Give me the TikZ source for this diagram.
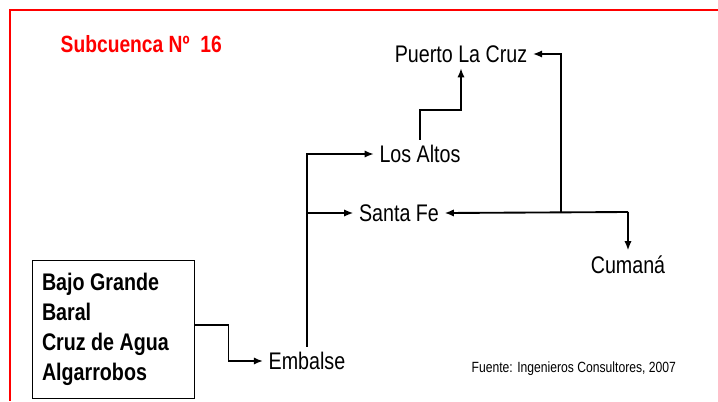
\documentclass[tikz,border=0pt]{standalone}
\usepackage{fontspec}
\setmainfont{Liberation Sans}[FakeStretch=0.82]
\usetikzlibrary{arrows.meta}

\begin{document}
\begin{tikzpicture}[x=0.75pt,y=-0.75pt,
    flow/.style={line width=1.4pt,-{Latex[length=7pt,width=5.5pt]}},
    place/.style={inner sep=4pt,font=\fontsize{18}{22}\selectfont}]
            \useasboundingbox (0,0) rectangle (718,401);
            \draw[red,line width=1.5pt] (718,10)--(10,10)--(10,401);
            \node[anchor=west,text=red,font=\fontsize{17.6}{22}\selectfont\bfseries] (titulo) at (56,44) {Subcuenca Nº\ \ 16};

            \node[place] (pto) at (461,54) {Puerto La Cruz};
            \node[place] (altos) at (420,154) {Los Altos};
            \node[place] (santafe) at (399,213) {Santa Fe};
            \node[place] (cumana) at (628,265) {Cumaná};
            \node[place] (embalse) at (307,361) {Embalse};
            \node[draw,line width=0.75pt,align=flush left,inner xsep=7.5pt,text width=106.5pt,
                minimum width=121.5pt,minimum height=103.5pt,
                font=\fontsize{18}{22.5}\selectfont\bfseries] (fuentes) at (113,329)
                {Bajo Grande\\Baral\\Cruz de Agua\\Algarrobos};
            \node[anchor=west,font=\fontsize{11.1}{14}\selectfont] (fuente) at (467,369) {Fuente: Ingenieros Consultores, 2007};
            \coordinate (tee) at (561,212);
            \coordinate (split) at (628,212);

            \draw[flow] ([yshift=3pt]fuentes.east) -- ++(34,0) |- (embalse.west);
            \draw[flow] (embalse.north) |- (santafe.west);
            \draw[flow] (embalse.north) |- (altos.west);
            \draw[flow] (altos.north) -- ++(0,-30) -| (pto.south);
            \draw[flow] (split) -- (santafe.east);
            \draw[flow] (split) -- (cumana.north);
            \draw[flow] (tee) |- (pto.east);
        \end{tikzpicture}
\end{document}
